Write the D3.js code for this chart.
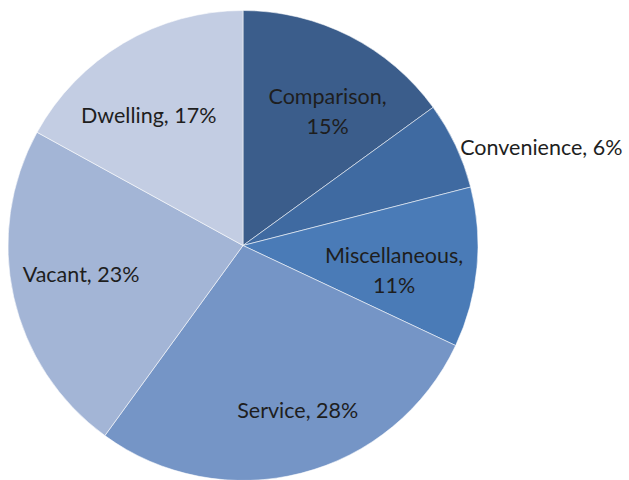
<!DOCTYPE html>
<html>
<head>
<meta charset="utf-8">
<script src="https://cdn.jsdelivr.net/npm/d3@7"></script>
<style>
  html, body { margin: 0; padding: 0; background: #fff; }
  svg text { font-family: Lato, "Open Sans", sans-serif; fill: #1e1e1e; }
</style>
</head>
<body>
<svg id="chart" width="629" height="480"></svg>
<script>
// Land use shares, clockwise from 12 o'clock
const categories = ["Comparison", "Convenience", "Miscellaneous", "Service", "Vacant", "Dwelling"];
const shares = [15, 6, 11, 28, 23, 17];
const colors = ["#3b5d8b", "#3f6aa1", "#4a7bb7", "#7595c6", "#a3b5d6", "#c3cde3"];

const width = 629, height = 480;
const cx = 243, cy = 245.5, R = 235;

// label layout: line breaks, radial distance and small pixel nudges
const labelLines = [["Comparison,", "15%"], ["Convenience, 6%"], ["Miscellaneous,", "11%"],
                    ["Service, 28%"], ["Vacant, 23%"], ["Dwelling, 17%"]];
const labelOutside = [false, true, false, false, false, false];
const labelRadius = 0.68;
const nudge = [[12, 8], [0, 0], [-8, 10], [15, 10], [-6, -6], [-13, 8]];

const svg = d3.select("#chart");
const g = svg.append("g").attr("transform", `translate(${cx},${cy})`);

const pie = d3.pie().sort(null).value(d => d.value);
const arcs = pie(categories.map((c, i) => ({ name: c, value: shares[i], i })));
const arc = d3.arc().innerRadius(0).outerRadius(R);

g.selectAll("path.slice")
  .data(arcs)
  .join("path")
  .attr("class", "slice")
  .attr("d", arc)
  .attr("fill", d => colors[d.data.i])
  .attr("stroke", "rgba(255,255,255,0.55)")
  .attr("stroke-width", 1);

const fontSize = 21.5, lineH = 30;

g.selectAll("text.label")
  .data(arcs)
  .join("text")
  .attr("class", "label")
  .attr("font-size", fontSize)
  .each(function (d) {
    const i = d.data.i;
    const mid = (d.startAngle + d.endAngle) / 2;
    const t = d3.select(this);
    const lines = labelLines[i];
    let x, y;
    if (labelOutside[i]) {
      const r = R + 5;
      x = Math.sin(mid) * r;
      y = -Math.cos(mid) * r + 4;
      t.attr("text-anchor", "start");
    } else {
      const r = R * labelRadius;
      x = Math.sin(mid) * r + nudge[i][0];
      y = -Math.cos(mid) * r + nudge[i][1];
      t.attr("text-anchor", "middle");
    }
    const top = y - (lines.length - 1) * lineH / 2;
    lines.forEach((ln, k) => {
      t.append("tspan")
        .attr("x", x)
        .attr("y", top + k * lineH)
        .attr("dy", "0.35em")
        .text(ln);
    });
  });
</script>
</body>
</html>
